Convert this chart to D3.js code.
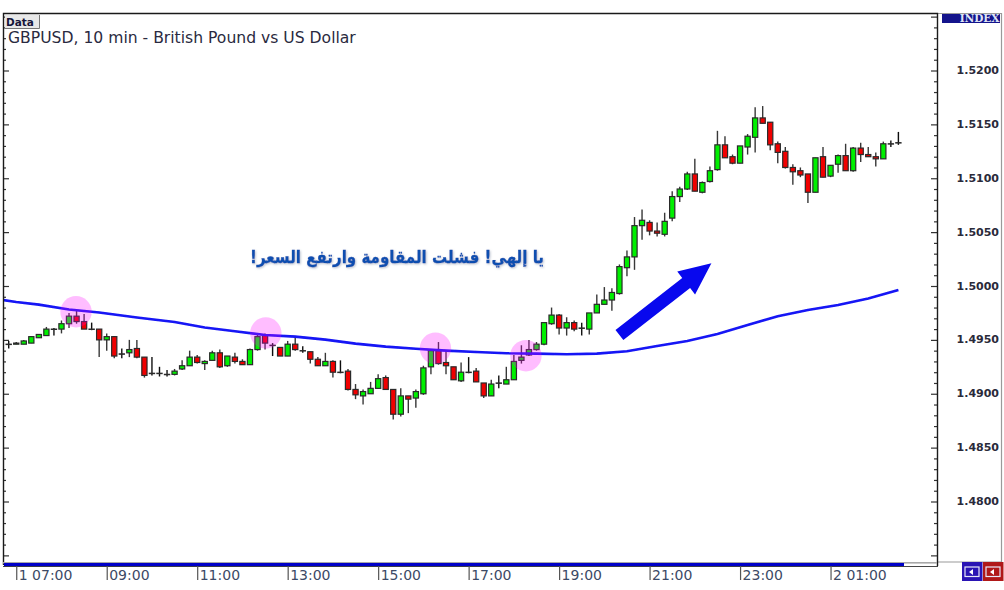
<!DOCTYPE html>
<html><head><meta charset="utf-8">
<style>html,body{margin:0;padding:0;background:#fff;overflow:hidden}svg{display:block}</style>
<script src="https://cdn.jsdelivr.net/npm/d3@7"></script></head>
<body><svg id="c" width="1004" height="590"></svg>
<script>
const open_=[1.4946,1.4946,1.4946,1.4947,1.4952,1.4954,1.4960,1.4960,1.4965,1.4972,
1.4967,1.4960,1.4960,1.4950,1.4953,1.4937,1.4938,1.4942,1.4934,1.4919,
1.4919,1.4918,1.4918,1.4923,1.4926,1.4934,1.4928,1.4931,1.4938,1.4926,
1.4934,1.4930,1.4927,1.4941,1.4954,1.4945,1.4943,1.4935,1.4946,1.4940,
1.4939,1.4932,1.4926,1.4930,1.4920,1.4921,1.4904,1.4898,1.4900,1.4905,
1.4915,1.4904,1.4881,1.4898,1.4896,1.4900,1.4925,1.4940,1.4929,1.4925,
1.4912,1.4920,1.4921,1.4910,1.4898,1.4910,1.4909,1.4913,1.4931,1.4936,
1.4941,1.4946,1.4965,1.4973,1.4961,1.4966,1.4961,1.4960,1.4975,1.4983,
1.4987,1.4993,1.5017,1.5027,1.5056,1.5059,1.5051,1.5048,1.5063,1.5083,
1.5090,1.5104,1.5087,1.5097,1.5108,1.5131,1.5120,1.5114,1.5129,1.5138,
1.5156,1.5152,1.5132,1.5125,1.5110,1.5107,1.5104,1.5087,1.5120,1.5102,
1.5113,1.5121,1.5107,1.5128,1.5122,1.5120,1.5118,1.5132,1.5133];
const close_=[1.4946,1.4947,1.4949,1.4953,1.4955,1.4960,1.4960,1.4965,1.4972,1.4967,
1.4960,1.4960,1.4950,1.4953,1.4935,1.4937,1.4941,1.4934,1.4917,1.4919,
1.4919,1.4918,1.4921,1.4926,1.4934,1.4929,1.4930,1.4938,1.4925,1.4935,
1.4930,1.4927,1.4941,1.4953,1.4947,1.4945,1.4935,1.4946,1.4941,1.4940,
1.4932,1.4926,1.4930,1.4920,1.4920,1.4904,1.4899,1.4902,1.4905,1.4914,
1.4904,1.4881,1.4898,1.4895,1.4902,1.4924,1.4940,1.4928,1.4926,1.4913,
1.4920,1.4920,1.4911,1.4898,1.4909,1.4910,1.4913,1.4930,1.4934,1.4941,
1.4946,1.4966,1.4973,1.4961,1.4966,1.4960,1.4961,1.4975,1.4983,1.4987,
1.4994,1.5018,1.5027,1.5056,1.5061,1.5051,1.5049,1.5060,1.5083,1.5090,
1.5104,1.5088,1.5096,1.5107,1.5131,1.5119,1.5114,1.5130,1.5139,1.5156,
1.5151,1.5131,1.5124,1.5110,1.5106,1.5103,1.5087,1.5119,1.5101,1.5112,
1.5121,1.5107,1.5128,1.5122,1.5120,1.5118,1.5132,1.5132,1.5133];
const high_=[1.4949,1.4948,1.4950,1.4953,1.4955,1.4962,1.4961,1.4968,1.4975,1.4977,
1.4974,1.4966,1.4960,1.4956,1.4953,1.4942,1.4950,1.4950,1.4934,1.4934,
1.4925,1.4922,1.4923,1.4931,1.4940,1.4936,1.4931,1.4940,1.4941,1.4935,
1.4938,1.4932,1.4942,1.4956,1.4956,1.4947,1.4943,1.4949,1.4953,1.4944,
1.4939,1.4934,1.4938,1.4931,1.4931,1.4923,1.4909,1.4904,1.4911,1.4918,
1.4917,1.4904,1.4905,1.4898,1.4904,1.4926,1.4941,1.4948,1.4940,1.4925,
1.4929,1.4934,1.4924,1.4910,1.4913,1.4917,1.4925,1.4936,1.4945,1.4950,
1.4948,1.4966,1.4980,1.4974,1.4971,1.4968,1.4966,1.4975,1.4992,1.4999,
1.4998,1.5020,1.5033,1.5064,1.5071,1.5061,1.5059,1.5068,1.5088,1.5092,
1.5106,1.5118,1.5097,1.5111,1.5144,1.5139,1.5122,1.5130,1.5141,1.5166,
1.5167,1.5152,1.5134,1.5129,1.5113,1.5110,1.5104,1.5119,1.5129,1.5112,
1.5122,1.5132,1.5129,1.5133,1.5129,1.5124,1.5134,1.5135,1.5143];
const low_=[1.4942,1.4946,1.4946,1.4947,1.4952,1.4954,1.4954,1.4956,1.4961,1.4965,
1.4960,1.4959,1.4934,1.4940,1.4933,1.4933,1.4934,1.4933,1.4915,1.4917,
1.4916,1.4916,1.4917,1.4922,1.4926,1.4928,1.4922,1.4931,1.4924,1.4925,
1.4928,1.4927,1.4927,1.4940,1.4941,1.4935,1.4935,1.4935,1.4940,1.4938,
1.4928,1.4926,1.4926,1.4915,1.4919,1.4903,1.4895,1.4890,1.4900,1.4905,
1.4904,1.4876,1.4879,1.4882,1.4887,1.4899,1.4918,1.4927,1.4918,1.4913,
1.4911,1.4919,1.4911,1.4896,1.4898,1.4905,1.4909,1.4913,1.4928,1.4935,
1.4940,1.4945,1.4964,1.4955,1.4954,1.4958,1.4954,1.4955,1.4975,1.4983,
1.4977,1.4992,1.5009,1.5015,1.5043,1.5047,1.5046,1.5046,1.5060,1.5078,
1.5089,1.5088,1.5086,1.5096,1.5107,1.5119,1.5113,1.5114,1.5122,1.5124,
1.5151,1.5126,1.5114,1.5109,1.5094,1.5101,1.5077,1.5087,1.5101,1.5101,
1.5105,1.5107,1.5106,1.5115,1.5120,1.5111,1.5118,1.5129,1.5131];
const maBars=[-1,1,4,8,12,17,22,26,30,34,38,42,46,50,54,58,62,66,70,74,78,82,86,90,94,98,102,106,110,114,118];
const maValues=[1.49872,1.49852,1.49827,1.49782,1.49754,1.49708,1.49666,1.49615,1.4958,1.49545,1.4953,1.49502,1.49465,1.49437,1.49418,1.494,1.49388,1.49376,1.49372,1.49366,1.49372,1.49394,1.49443,1.4949,1.49555,1.49638,1.4972,1.49777,1.49824,1.49884,1.49963];
const touchBars=[8.93,34.1,56.6,68.6];
const touchPrices=[1.49761,1.49564,1.49422,1.49353];
const arrowFrom=[81,1.49545], arrowTo=[93.2,1.5021];
const priceLabels=[1.48,1.485,1.49,1.495,1.5,1.505,1.51,1.515,1.52];
const timeBars=[1,13,25,37,49,61,73,85,97,109];
const timeLabels=["1 07:00","09:00","11:00","13:00","15:00","17:00","19:00","21:00","23:00","2 01:00"];
const titleText="GBPUSD, 10 min - British Pound vs US Dollar";
const noteText="يا إلهي! فشلت المقاومة وارتفع السعر!";

const FONT="'DejaVu Sans',sans-serif";
const L=3,R=937,T=13,B=565;
const x=d3.scaleLinear().domain([0,118]).range([8.7,898.4]);
const y=d3.scaleLinear().domain([1.48,1.52]).range([501.5,70.5]);
const svg=d3.select("#c");
const defs=svg.append("defs");
defs.append("clipPath").attr("id","plot").append("rect").attr("x",L+1).attr("y",T).attr("width",R-L-1).attr("height",B-T);
defs.append("filter").attr("id","soft").append("feGaussianBlur").attr("stdDeviation",0.45);
const sh=defs.append("filter").attr("id","glow").attr("x","-5%").attr("y","-30%").attr("width","110%").attr("height","160%");
sh.append("feDropShadow").attr("dx",1).attr("dy",1).attr("stdDeviation",1.2).attr("flood-color","#9aa4b8").attr("flood-opacity",0.7);

// right panel
svg.append("rect").attr("x",R).attr("y",T).attr("width",1001-R).attr("height",B-3-T).attr("fill","#fff");
svg.append("path").attr("d",`M${R} ${T+0.5}H1001.5V${B-3}H${R}`).attr("fill","none").attr("stroke","#9a9a9a").attr("stroke-width",1.2);
svg.append("rect").attr("x",942).attr("y",14).attr("width",58).attr("height",9).attr("fill","#14148c");
svg.append("text").attr("x",999.5).attr("y",22.3).attr("text-anchor","end").attr("font-family","'DejaVu Serif',serif").attr("font-weight","bold").attr("font-size",10.5).attr("fill","#dfe4f5").text("INDEX");

// candles
const plot=svg.append("g").attr("clip-path","url(#plot)");
const g=plot.append("g").attr("filter","url(#soft)");
const idx=d3.range(open_.length);
g.selectAll("line.w").data(idx).join("line").attr("class","w")
 .attr("x1",i=>x(i)).attr("x2",i=>x(i)).attr("y1",i=>y(high_[i])).attr("y2",i=>y(low_[i]))
 .attr("stroke",i=>open_[i]===close_[i]?"#111":"#383838").attr("stroke-width",1.4);
g.selectAll("rect.b").data(idx).join("rect").attr("class","b")
 .attr("x",i=>x(i)-2.6).attr("width",5.2)
 .attr("y",i=>y(Math.max(open_[i],close_[i])))
 .attr("height",i=>Math.max(0.3,Math.abs(y(open_[i])-y(close_[i]))))
 .attr("fill",i=>close_[i]>open_[i]?"#00f000":close_[i]<open_[i]?"#f00000":"#111")
 .attr("stroke","#2a2a2a").attr("stroke-width",1.2);

// moving average
plot.append("path").datum(maBars.map((b,i)=>[b,maValues[i]]))
 .attr("d",d3.line().x(d=>x(d[0])).y(d=>y(d[1])))
 .attr("fill","none").attr("stroke","#1414f5").attr("stroke-width",2.6).attr("filter","url(#soft)");

// touch circles
plot.selectAll("circle").data(touchBars).join("circle")
 .attr("cx",b=>x(b)).attr("cy",(b,i)=>y(touchPrices[i])).attr("r",15.7)
 .attr("fill","#f0f").attr("fill-opacity",0.26);

// arrow, built from its two data anchors
(function(){
 const a=[x(arrowFrom[0]),y(arrowFrom[1])],b=[x(arrowTo[0]),y(arrowTo[1])];
 const dx=b[0]-a[0],dy=b[1]-a[1],len=Math.hypot(dx,dy),ux=dx/len,uy=dy/len,nx=-uy,ny=ux;
 const hl=32,sw=6.4,hw=14.5;
 const bx=b[0]-ux*hl,by=b[1]-uy*hl;
 const pts=[[a[0]+nx*sw,a[1]+ny*sw],[bx+nx*sw,by+ny*sw],[bx+nx*hw,by+ny*hw],b,[bx-nx*hw,by-ny*hw],[bx-nx*sw,by-ny*sw],[a[0]-nx*sw,a[1]-ny*sw]];
 svg.append("polygon").attr("points",pts.map(p=>p.join(",")).join(" ")).attr("fill","#0808ee");
})();

// note, condensed horizontally to the reference's width
const note=svg.append("text").attr("x",0).attr("y",0).attr("text-anchor","start").attr("direction","rtl")
 .attr("font-family",FONT).attr("font-weight","bold").attr("font-size",17.5).attr("fill","#0f4fb0")
 .attr("stroke","#0f4fb0").attr("stroke-width",0.35).attr("filter","url(#glow)").text(noteText);
const noteW=note.node().getComputedTextLength();
note.attr("transform",`translate(544,262.5) scale(${294/noteW},1)`);

// price axes
const yTicks=d3.range(1475,1526).map(v=>v/1000);
const isMajor=v=>Math.round(v*1000)%5===0;
const rightAxis=d3.axisLeft(y).tickValues(yTicks).tickSize(0).tickFormat("");
const ra=svg.append("g").attr("transform",`translate(${R},0)`).call(rightAxis);
ra.select(".domain").remove();
ra.selectAll(".tick line").attr("x2",d=>isMajor(d)?-6:-3).attr("stroke","#333").attr("stroke-width",1.2);
const leftAxis=d3.axisRight(y).tickValues(yTicks).tickSize(0).tickFormat("");
const la=svg.append("g").attr("transform",`translate(${L},0)`).call(leftAxis);
la.select(".domain").remove();
la.selectAll(".tick line").attr("x2",d=>isMajor(d)?6:3).attr("stroke","#333").attr("stroke-width",1.2);
svg.selectAll("text.pl").data(priceLabels).join("text").attr("class","pl")
 .attr("x",999).attr("y",d=>y(d)+3.5).attr("text-anchor","end")
 .attr("font-family",FONT).attr("font-weight","bold").attr("font-size",11).attr("fill","#2a2a3a").text(d=>d.toFixed(4));

// frame
svg.append("path").attr("d",`M${L+0.5} ${B}V${T+0.5}H${R+0.5}V${B+1}`).attr("fill","none").attr("stroke","#1a1a1a").attr("stroke-width",1.4);
svg.append("rect").attr("x",L).attr("y",B-3).attr("width",R-L).attr("height",1.6).attr("fill","#a8a8a8");
svg.append("rect").attr("x",L+1).attr("y",B-2).attr("width",900).attr("height",3.4).attr("fill","#0000c8");
svg.append("rect").attr("x",L).attr("y",B+1).attr("width",R-L+1).attr("height",0.9).attr("fill","#333");

// time axis
const timeAxis=d3.axisBottom(x).tickValues(timeBars).tickSize(0).tickFormat("");
const ta=svg.append("g").attr("transform",`translate(0,${B+1})`).call(timeAxis);
ta.select(".domain").remove();
ta.selectAll(".tick line").attr("y2",14).attr("stroke","#555").attr("stroke-width",1.2);
svg.selectAll("text.tl").data(timeBars).join("text").attr("class","tl")
 .attr("x",b=>x(b)+2.5).attr("y",580).attr("font-family",FONT).attr("font-size",14).attr("fill","#3c4a66")
 .text((b,i)=>timeLabels[i]);

// labels
svg.append("rect").attr("x",5).attr("y",15).attr("width",34).attr("height",13).attr("fill","#e8e8e8");
svg.append("path").attr("d","M39.5 15V28.5H5").attr("fill","none").attr("stroke","#777");
svg.append("text").attr("x",6).attr("y",26).attr("font-family",FONT).attr("font-weight","bold").attr("font-size",10.5).attr("fill","#15153a").text("Data");
svg.append("text").attr("x",8).attr("y",43).attr("font-family",FONT).attr("font-size",15.6).attr("fill","#2a2a40").text(titleText);

// scroll buttons
const btnLabels=["#2a14b4","#b01818"];
btnLabels.forEach((col,i)=>{
 const bx=962+i*21;
 svg.append("rect").attr("x",bx).attr("y",562).attr("width",20.5).attr("height",19).attr("fill",col);
 svg.append("rect").attr("x",bx+3).attr("y",567).attr("width",14).attr("height",9.5).attr("fill","none").attr("stroke","#e8e8f8").attr("stroke-width",1.2);
 svg.append("path").attr("d",`M${bx+7} 572L${bx+11} 569V575Z`).attr("fill","#fff");
});
</script></body></html>
